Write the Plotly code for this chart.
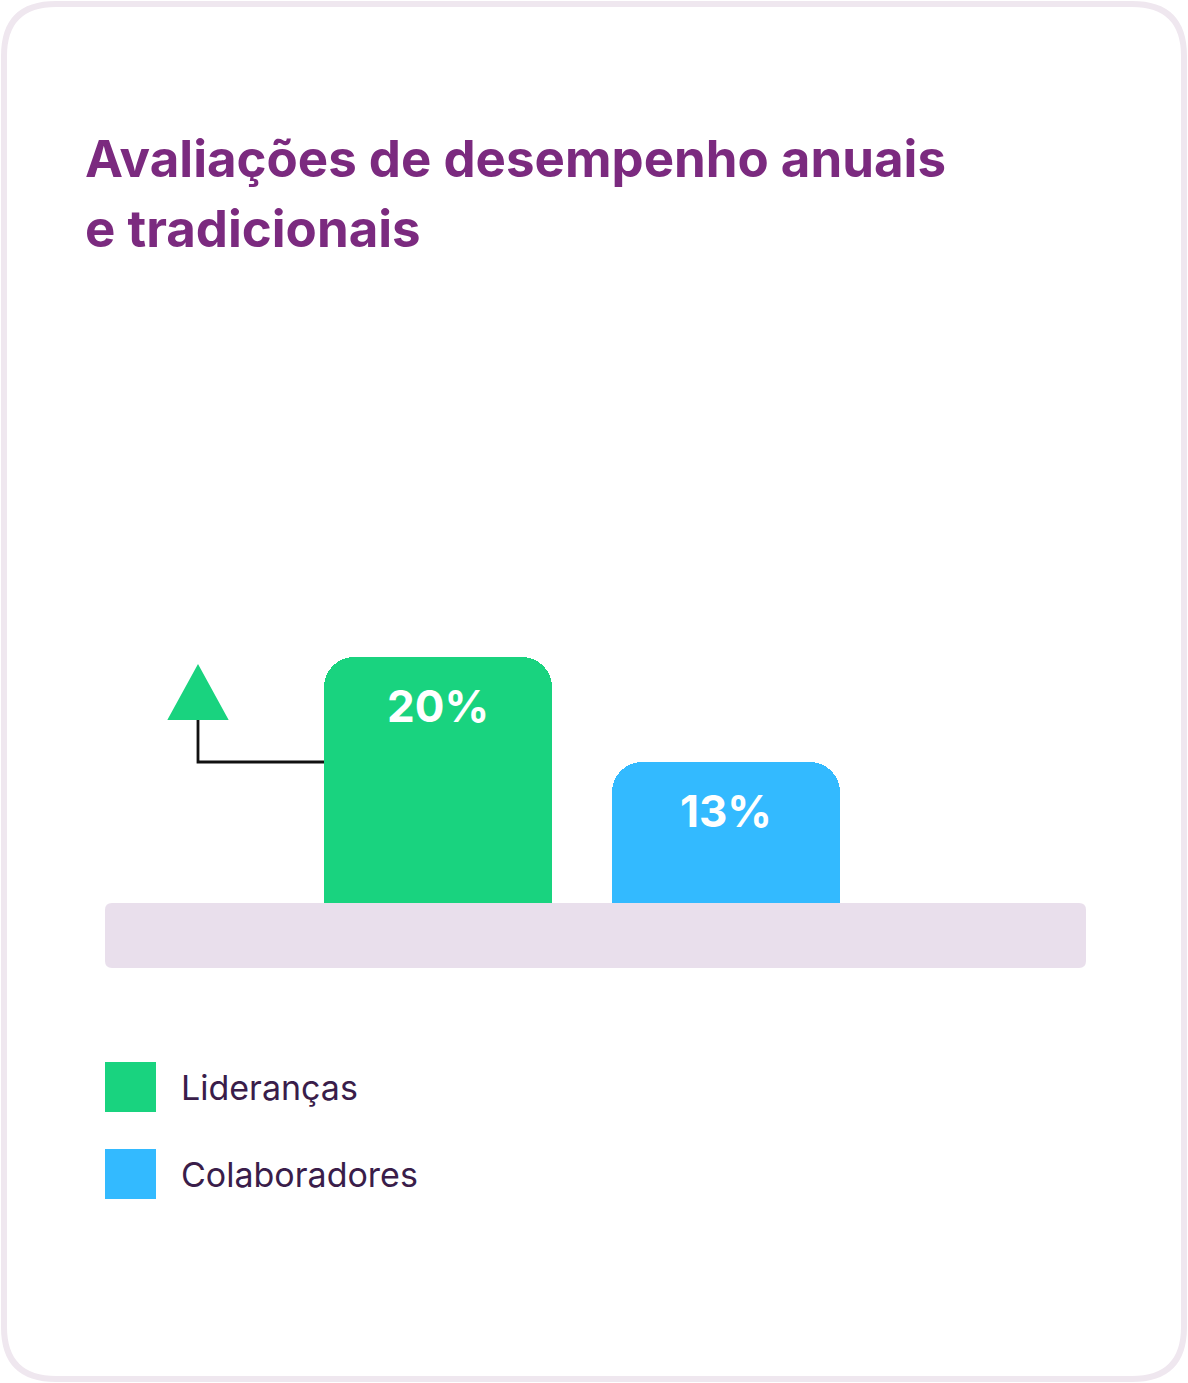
import plotly.graph_objects as go

# ---- data ----
categories = ["Lideranças", "Colaboradores"]
values = [20, 13]
value_labels = ["20%", "13%"]
colors = ["#19D37F", "#33BAFF"]
title_lines = ["Avaliações de desempenho anuais", "e tradicionais"]

W, H = 1188, 1383
FONT = "Inter"


def X(px):
    return px / W


def Y(py):
    return 1 - py / H


def rrect(x0, y0, x1, y1, r):
    pts = [
        f"M {X(x0 + r)},{Y(y0)}",
        f"L {X(x1 - r)},{Y(y0)}",
        f"Q {X(x1)},{Y(y0)} {X(x1)},{Y(y0 + r)}",
        f"L {X(x1)},{Y(y1 - r)}",
        f"Q {X(x1)},{Y(y1)} {X(x1 - r)},{Y(y1)}",
        f"L {X(x0 + r)},{Y(y1)}",
        f"Q {X(x0)},{Y(y1)} {X(x0)},{Y(y1 - r)}",
        f"L {X(x0)},{Y(y0 + r)}",
        f"Q {X(x0)},{Y(y0)} {X(x0 + r)},{Y(y0)}",
        "Z",
    ]
    return " ".join(pts)


# axes geometry (pixels)
y_zero_px, px_per_unit = 957, 15.0
y_top_val = 30
x_left_px, x_right_px = 105, 1086
cat_spacing_px = 288
first_center_px = 438
x0_val = -(first_center_px - x_left_px) / cat_spacing_px
x1_val = x0_val + (x_right_px - x_left_px) / cat_spacing_px
bar_w = 228 / cat_spacing_px
positions = list(range(len(categories)))

fig = go.Figure()

fig.add_trace(go.Bar(
    x=positions, y=values, width=bar_w, customdata=categories,
    marker=dict(color=colors, cornerradius=30, line=dict(width=0)),
    hoverinfo="skip", showlegend=False,
))

# connector + arrow (leaders above collaborators)
arrow_x = x0_val + (198 - x_left_px) / cat_spacing_px
arrow_half = 29 / cat_spacing_px
tri_base = values[1] + 43 / px_per_unit
tri_apex = tri_base + 53 / px_per_unit
fig.add_trace(go.Scatter(
    x=[positions[0] - bar_w / 2, arrow_x, arrow_x], y=[values[1], values[1], tri_base + 0.1],
    mode="lines", line=dict(color="#111111", width=2.8),
    hoverinfo="skip", showlegend=False,
))

shapes = []
shapes.append(dict(type="path", xref="paper", yref="paper",
                   path=rrect(4, 4, 1184, 1379, 52),
                   line=dict(color="#EFE7EF", width=6), fillcolor="white", layer="below"))
shapes.append(dict(type="path", xref="paper", yref="paper",
                   path=rrect(105, 903, 1086, 968, 7),
                   line=dict(width=0), fillcolor="#E9DFEC", layer="above"))
shapes.append(dict(type="path", xref="x", yref="y",
                   path=f"M {arrow_x - arrow_half},{tri_base} L {arrow_x},{tri_apex} "
                        f"L {arrow_x + arrow_half},{tri_base} Z",
                   line=dict(color=colors[0], width=2), fillcolor=colors[0], layer="above"))

annotations = []
for p, v, lab in zip(positions, values, value_labels):
    annotations.append(dict(x=p, y=v, xref="x", yref="y", text=f"<b>{lab}</b>",
                            showarrow=False, yanchor="middle", yshift=-49,
                            font=dict(family=FONT, size=44, color="white")))
for i, line in enumerate(title_lines):
    annotations.append(dict(x=X(83), y=Y(158 + 71 * i), xref="paper", yref="paper",
                            text=f"<b>{line}</b>", showarrow=False,
                            xanchor="left", yanchor="middle",
                            font=dict(family=FONT, size=51, color="#7B2A7F")))
for i, (c, col) in enumerate(zip(categories, colors)):
    top = 1062 + 87 * i
    shapes.append(dict(type="rect", xref="paper", yref="paper",
                       x0=X(105), x1=X(156), y0=Y(top), y1=Y(top + 50),
                       line=dict(width=0), fillcolor=col))
    annotations.append(dict(x=X(179), y=Y(top + 25), xref="paper", yref="paper",
                            text=c, showarrow=False, xanchor="left", yanchor="middle",
                            font=dict(family=FONT, size=34, color="#3A1D4A")))

fig.update_layout(
    width=W, height=H,
    margin=dict(l=0, r=0, t=0, b=0),
    paper_bgcolor="white", plot_bgcolor="rgba(0,0,0,0)",
    shapes=shapes, annotations=annotations,
    xaxis=dict(type="linear", domain=[X(x_left_px), X(x_right_px)], range=[x0_val, x1_val],
               visible=False, showgrid=False, zeroline=False, fixedrange=True),
    yaxis=dict(domain=[Y(y_zero_px), Y(y_zero_px - y_top_val * px_per_unit)],
               range=[0, y_top_val], visible=False, showgrid=False,
               zeroline=False, fixedrange=True),
    bargap=0,
)

fig.write_html("out.html", config={"displayModeBar": False, "responsive": False},
               post_script="document.body.style.margin='0';document.body.style.overflow='hidden';")
